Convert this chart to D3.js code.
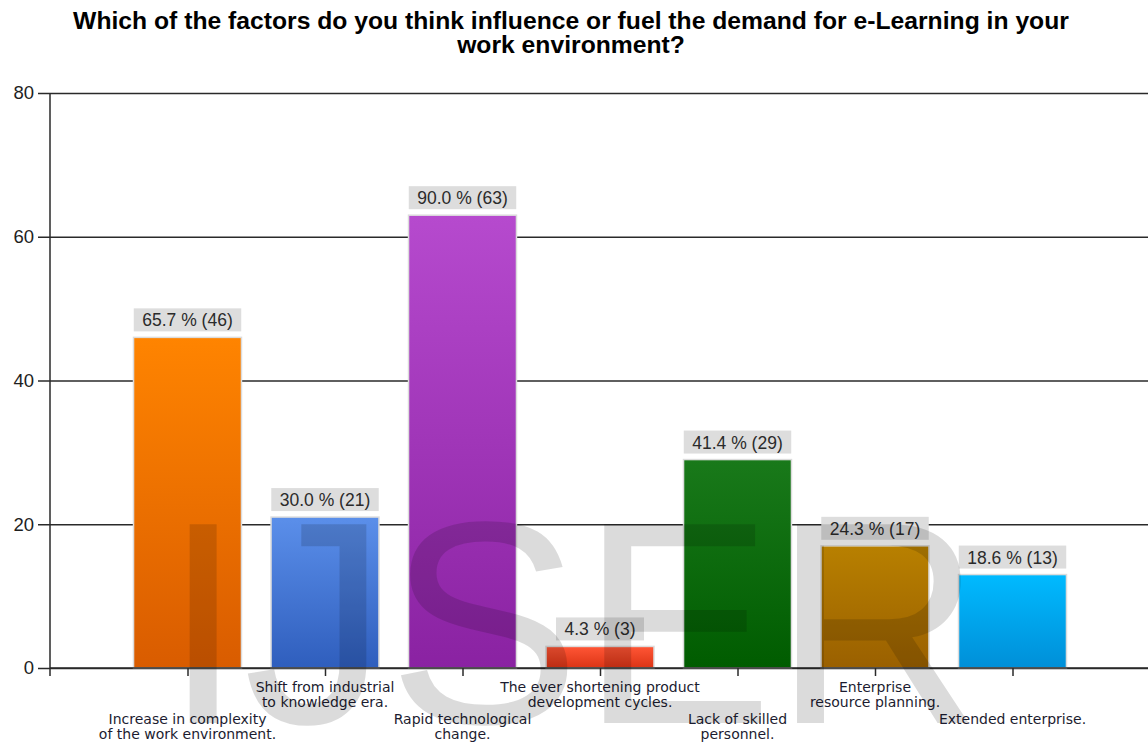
<!DOCTYPE html>
<html>
<head>
<meta charset="utf-8">
<script src="https://cdn.jsdelivr.net/npm/d3@7"></script>
<style>
  html, body { margin: 0; padding: 0; background: #fff; }
  svg { display: block; }
</style>
</head>
<body>
<svg id="chart" width="1148" height="744"></svg>
<script>
// Survey question and answer categories (each label split into its display lines)
const titleLines = [
  "Which of the factors do you think influence or fuel the demand for e-Learning in your",
  "work environment?"
];
const categories = [
  ["Increase in complexity", "of the work environment."],
  ["Shift from industrial", "to knowledge era."],
  ["Rapid technological", "change."],
  ["The ever shortening product", "development cycles."],
  ["Lack of skilled", "personnel."],
  ["Enterprise", "resource planning."],
  ["Extended enterprise."]
];
// Respondent counts and share of respondents (%)
const counts = [46, 21, 63, 3, 29, 17, 13];
const percents = [65.7, 30.0, 90.0, 4.3, 41.4, 24.3, 18.6];
const yTicks = [0, 20, 40, 60, 80];
// Bar fills: [top, bottom] of each gradient
const barColors = [
  ["#ff8400", "#d95c00"],
  ["#5b8fea", "#2f5ebd"],
  ["#b64ace", "#8a22a2"],
  ["#ff5636", "#dc3415"],
  ["#19791a", "#005c00"],
  ["#b88000", "#9a6000"],
  ["#00baff", "#008fd8"]
];
const watermark = "IJSER";

const W = 1148, H = 744;
const svg = d3.select("#chart");
const keys = categories.map((c, i) => i);

const x = d3.scalePoint().domain(keys).range([50, 1150]).padding(1);
const y = d3.scaleLinear().domain([0, 80]).range([668, 93]);
const barW = x.step() * 0.785;

// gradients
const defs = svg.append("defs");
barColors.forEach((c, i) => {
  const g = defs.append("linearGradient")
    .attr("id", "grad" + i)
    .attr("x1", 0).attr("y1", 0).attr("x2", 0).attr("y2", 1);
  g.append("stop").attr("offset", "0%").attr("stop-color", c[0]);
  g.append("stop").attr("offset", "100%").attr("stop-color", c[1]);
});

// title
svg.append("g").selectAll("text")
  .data(titleLines)
  .join("text")
  .attr("x", 571)
  .attr("y", (d, i) => 29 + i * 24)
  .attr("text-anchor", "middle")
  .attr("font-family", "'Liberation Sans', Arial, sans-serif")
  .attr("font-weight", "bold")
  .attr("font-size", 24.7)
  .attr("fill", "#000")
  .text(d => d);

// horizontal gridlines with left ticks
const yAxis = d3.axisLeft(y)
  .tickValues(yTicks)
  .tickSize(-(W - 50))
  .tickPadding(5)
  .tickFormat(d3.format("d"));
const gy = svg.append("g")
  .attr("transform", "translate(50,0)")
  .call(yAxis);
gy.select(".domain").remove();
gy.selectAll(".tick line")
  .attr("x1", -12)
  .attr("stroke", "#2a2a2a")
  .attr("stroke-width", 1.5);
gy.selectAll(".tick text")
  .attr("x", -16)
  .attr("font-family", "'Liberation Sans', Arial, sans-serif")
  .attr("font-size", 18.5)
  .attr("fill", "#1e1e1e");

// bars
svg.append("g").selectAll("rect")
  .data(counts)
  .join("rect")
  .attr("x", (d, i) => x(i) - barW / 2)
  .attr("y", d => y(d))
  .attr("width", barW)
  .attr("height", d => y(0) - y(d))
  .attr("fill", (d, i) => `url(#grad${i})`)
  .attr("stroke", "#dcdcdc")
  .attr("stroke-width", 1.5);

// value labels on grey boxes
const vlab = svg.append("g").selectAll("g")
  .data(counts)
  .join("g");
vlab.append("text")
  .attr("x", (d, i) => x(i))
  .attr("y", d => y(d) - 11)
  .attr("text-anchor", "middle")
  .attr("font-family", "'Liberation Sans', Arial, sans-serif")
  .attr("font-size", 17.5)
  .attr("fill", "#2b2b2b")
  .text((d, i) => `${percents[i].toFixed(1)} % (${d})`);
vlab.each(function (d, i) {
  const t = d3.select(this).select("text");
  const tw = t.node().getComputedTextLength();
  d3.select(this).insert("rect", "text")
    .attr("x", x(i) - tw / 2 - 8.5)
    .attr("y", y(d) - 29)
    .attr("width", tw + 17)
    .attr("height", 23)
    .attr("fill", "#dddddd");
});

// axes lines
svg.append("line")
  .attr("x1", 50).attr("x2", 50)
  .attr("y1", 93).attr("y2", 676)
  .attr("stroke", "#2a2a2a").attr("stroke-width", 1.5);
svg.append("line")
  .attr("x1", 50).attr("x2", W)
  .attr("y1", 668).attr("y2", 668)
  .attr("stroke", "#2a2a2a").attr("stroke-width", 1.5);

// category ticks and labels (staggered in two rows)
const xAxis = d3.axisBottom(x).tickSize(8).tickFormat("");
const gx = svg.append("g")
  .attr("transform", "translate(0,668)")
  .call(xAxis);
gx.select(".domain").remove();
gx.selectAll(".tick line").attr("stroke", "#2a2a2a").attr("stroke-width", 1.5);

const clab = svg.append("g").selectAll("text")
  .data(categories)
  .join("text")
  .attr("text-anchor", "middle")
  .attr("font-family", "'DejaVu Sans', Verdana, sans-serif")
  .attr("font-size", 14)
  .attr("fill", "#1c1c30");
clab.each(function (lines, i) {
  const base = i % 2 === 0 ? 724 : 692;
  d3.select(this).selectAll("tspan")
    .data(lines)
    .join("tspan")
    .attr("x", x(i))
    .attr("y", (l, j) => base + j * 15)
    .text(l => l);
});

// publisher watermark
svg.append("text")
  .attr("x", 163)
  .attr("y", 723)
  .attr("font-family", "'Liberation Sans', Arial, sans-serif")
  .attr("font-size", 289)
  .attr("fill", "#000")
  .attr("fill-opacity", 0.14)
  .text(watermark);
</script>
</body>
</html>
